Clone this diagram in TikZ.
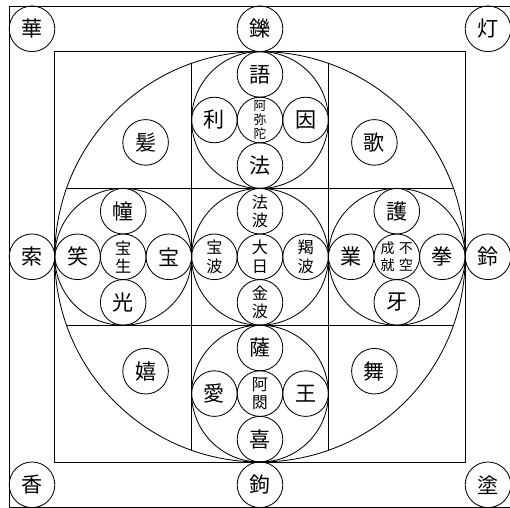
\documentclass[tikz,border=0pt]{standalone}
\usepackage{fontspec}
\newfontfamily\jp{Noto Sans CJK JP}
\usetikzlibrary{positioning}

\begin{document}
\begin{tikzpicture}[
  line width=0.6pt,
  font=\jp\fontsize{15}{15}\selectfont,
  mid/.style={circle, draw, minimum size=3.42cm, inner sep=0pt, outer sep=0pt},
  sm/.style={circle, draw, minimum size=1.14cm, inner sep=0pt, outer sep=0pt, align=center},
  two/.style={font=\jp\fontsize{11.5}{13}\selectfont},
  three/.style={font=\jp\fontsize{9}{10.2}\selectfont}
]
\useasboundingbox (-6.5,-6.28) rectangle (6.25,6.42);
\clip (-6.5,-6.28) rectangle (6.25,6.42);

\draw (-6.27,-6.27) rectangle (6.27,6.27);
\draw (-5.13,-5.13) rectangle (5.13,5.13);
\node[circle, draw, minimum size=10.26cm, inner sep=0pt] (rim) at (0,0) {};
\begin{scope}
  \clip (0,0) circle (5.13);
  \draw (-5.2,1.71) -- (5.2,1.71) (-5.2,-1.71) -- (5.2,-1.71)
        (1.71,-5.2) -- (1.71,5.2) (-1.71,-5.2) -- (-1.71,5.2);
\end{scope}

\node[mid] (mC) at (0,0) {};
\node[mid, above=0pt of mC] (mN) {};
\node[mid, below=0pt of mC] (mS) {};
\node[mid, left=0pt of mC] (mW) {};
\node[mid, right=0pt of mC] (mE) {};

\node[sm, two] (dainichi) at (mC) {大\\日};
\node[sm, two, above=0pt of dainichi] (dainichiN) {法\\波};
\node[sm, two, below=0pt of dainichi] (dainichiS) {金\\波};
\node[sm, two, left=0pt of dainichi] (dainichiW) {宝\\波};
\node[sm, two, right=0pt of dainichi] (dainichiE) {羯\\波};

\node[sm, three] (amida) at (mN) {阿\\弥\\陀};
\node[sm, above=0pt of amida] (amidaN) {語};
\node[sm, below=0pt of amida] (amidaS) {法};
\node[sm, left=0pt of amida] (amidaW) {利};
\node[sm, right=0pt of amida] (amidaE) {因};

\node[sm, two] (hosho) at (mW) {宝\\生};
\node[sm, above=0pt of hosho] (hoshoN) {幢};
\node[sm, below=0pt of hosho] (hoshoS) {光};
\node[sm, left=0pt of hosho] (hoshoW) {笑};
\node[sm, right=0pt of hosho] (hoshoE) {宝};

\node[sm, font=\jp\fontsize{10}{12.5}\selectfont] (fuku) at (mE) {成\hspace{3pt}不\\就\hspace{3pt}空};
\node[sm, above=0pt of fuku] (fukuN) {護};
\node[sm, below=0pt of fuku] (fukuS) {牙};
\node[sm, left=0pt of fuku] (fukuW) {業};
\node[sm, right=0pt of fuku] (fukuE) {拳};

\node[sm, two] (ashuku) at (mS) {阿\\閦};
\node[sm, above=0pt of ashuku] (ashukuN) {薩};
\node[sm, below=0pt of ashuku] (ashukuS) {喜};
\node[sm, left=0pt of ashuku] (ashukuW) {愛};
\node[sm, right=0pt of ashuku] (ashukuE) {王};

\node[sm] (hatsu) at (-2.86,2.86) {髪};
\node[sm] (ka) at (2.86,2.86) {歌};
\node[sm] (ki) at (-2.86,-2.86) {嬉};
\node[sm] (bu) at (2.86,-2.86) {舞};

\node[sm, above=0pt of mN] (sha) {鑠};
\node[sm, below=0pt of mS] (ku) {鉤};
\node[sm, left=0pt of mW] (saku) {索};
\node[sm, right=0pt of mE] (rei) {鈴};
\node[sm] (ke) at (-5.7,5.7) {華};
\node[sm] (to) at (5.7,5.7) {灯};
\node[sm] (ko) at (-5.7,-5.7) {香};
\node[sm] (zu) at (5.7,-5.7) {塗};
\end{tikzpicture}
\end{document}
